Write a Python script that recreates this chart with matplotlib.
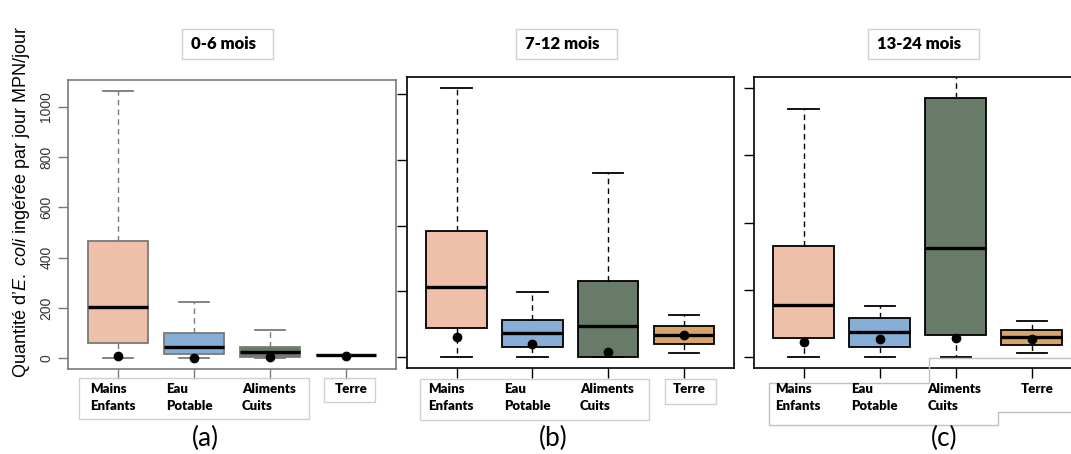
import numpy as np
import matplotlib
matplotlib.use("Agg")
import matplotlib.pyplot as plt
from matplotlib.patches import Rectangle
from matplotlib.lines import Line2D

plt.rcParams['mathtext.fontset'] = 'custom'
plt.rcParams['mathtext.rm'] = 'Liberation Sans'
plt.rcParams['mathtext.it'] = 'Liberation Sans:italic'

# data
groups = ["Mains\nEnfants", "Eau\nPotable", "Aliments\nCuits", "Terre"]
colors = ["#eec0aa", "#86aed6", "#677b68", "#d6a56a"]
titles = ["0-6 mois", "7-12 mois", "13-24 mois"]
letters = ["(a)", "(b)", "(c)"]

a_whishi = [1063, 222, 111, 15]
a_q3     = [465, 99, 46, 15]
a_med    = [202, 46, 24, 13]
a_q1     = [59, 17, 7, 12]
a_whislo = [0, 0, 0, 12]
a_mean   = [8, 0, 5, 10]

b_whishi = [819, 198, 560, 128]
b_q3     = [385, 113, 231, 94]
b_med    = [213, 74, 96, 69]
b_q1     = [89, 32, 0, 40]
b_whislo = [0, 0, 0, 13]
b_mean   = [60, 40, 16, 67]

c_whishi = [738, 152, 1000, 108]
c_q3     = [329, 115, 770, 82]
c_med    = [155, 74, 323, 59]
c_q1     = [56, 31, 65, 35]
c_whislo = [1, 0, 0, 14]
c_mean   = [44, 53, 58, 53]

W, H = 1071, 454
fig = plt.figure(figsize=(W / 100, H / 100), dpi=100)


def fx(x):
    return x / W


def fy(y):
    return 1 - y / H


def add_ax(l, t, r, b):
    return fig.add_axes([fx(l), fy(b), (r - l) / W, (b - t) / H])


panels = [
    dict(box=(68, 80, 396, 369), data=(a_whishi, a_q3, a_med, a_q1, a_whislo, a_mean),
         ylim=None, edge="#7a7a7a", labels=True),
    dict(box=(406.5, 77, 734, 368), data=(b_whishi, b_q3, b_med, b_q1, b_whislo, b_mean),
         ylim=None, edge="black", labels=False),
    dict(box=(753.5, 77, 1082, 368), data=(c_whishi, c_q3, c_med, c_q1, c_whislo, c_mean),
         ylim=(0, 800), edge="black", labels=False),
]

for p in panels:
    ax = add_ax(*p["box"])
    whishi, q3, med, q1, whislo, mean = p["data"]
    stats = []
    for i in range(len(groups)):
        stats.append(dict(med=med[i], q1=q1[i], q3=q3[i], whislo=whislo[i],
                          whishi=whishi[i], fliers=[]))
    pos = np.arange(1, len(groups) + 1)
    e = p["edge"]
    bp = ax.bxp(stats, positions=pos, widths=0.8, patch_artist=True, showfliers=False,
                boxprops=dict(edgecolor=e, linewidth=1.3),
                medianprops=dict(color="black", linewidth=2.4, solid_capstyle="butt"),
                whiskerprops=dict(color=e, linewidth=1.0, linestyle=(0, (4, 3))),
                capprops=dict(color=e, linewidth=1.3), capwidths=0.4)
    for patch, c in zip(bp["boxes"], colors):
        patch.set_facecolor(c)
    ax.plot(pos, mean, "o", color="black", markersize=6, zorder=5)

    lo = 0 if p["ylim"] is None else p["ylim"][0]
    hi = max(whishi) if p["ylim"] is None else p["ylim"][1]
    pad = 0.04 * (hi - lo)
    ax.set_ylim(lo - pad, hi + pad)
    ax.set_xlim(0.34, 4.66)
    ax.set_yticks(np.arange(0, 1001 if p["labels"] else 801, 200))
    ax.tick_params(axis="both", direction="out", length=7, color=e, width=1,
                   labelsize=10, labelcolor="#333333")
    if p["labels"]:
        ax.set_yticklabels([str(v) for v in ax.get_yticks().astype(int)],
                           rotation=90, va="center", family="Liberation Sans")
    else:
        ax.set_yticklabels([])
    ax.set_xticks(pos)
    ax.set_xticklabels([])
    for s in ax.spines.values():
        s.set_color(e)
        s.set_linewidth(1.2)

    # category labels below the axis
    l, t, r, b = p["box"]
    unit = (r - l) / 4.32
    for i, g in enumerate(groups):
        xc = l + (pos[i] - 0.34) * unit
        off = -0.15 if i == 3 else -0.37
        fig.text(fx(xc + off * unit), fy(383), g, ha="left", va="top",
                 fontsize=9.5, fontweight="heavy", family="Lato", linespacing=1.45)

# panel titles in light boxes
title_boxes = [(182, 29, 273, 59), (516, 29, 617, 59), (868, 29, 979, 59)]
for (l, t, r, b), s in zip(title_boxes, titles):
    fig.add_artist(Rectangle((fx(l), fy(b)), (r - l) / W, (b - t) / H,
                             transform=fig.transFigure, fill=False,
                             edgecolor="#d0d0d0", linewidth=1))
    fig.text(fx(l + 9), fy((t + b) / 2), s, ha="left", va="center",
             fontsize=12, fontweight="heavy", family="Lato")

# boxes round the category labels
label_boxes = [(79, 378, 309, 419), (324, 378, 375, 402),
               (420, 379, 649, 420), (665, 379, 716, 404)]
for l, t, r, b in label_boxes:
    fig.add_artist(Rectangle((fx(l), fy(b)), (r - l) / W, (b - t) / H,
                             transform=fig.transFigure, fill=False,
                             edgecolor="#d0d0d0", linewidth=1))
outline_x = [1071, 929, 929, 769, 769, 998, 998, 1071]
outline_y = [358, 358, 383, 383, 425, 425, 412, 412]
fig.add_artist(Line2D([fx(v) for v in outline_x], [fy(v) for v in outline_y],
                      transform=fig.transFigure, color="#c0c0c0", linewidth=1))

# letters under panels
for xc, s in zip([205, 553, 944], letters):
    fig.text(fx(xc), fy(438), s, ha="center", va="center", fontsize=19, family="Lato")

fig.text(fx(22), fy(202), "Quantité d’$\\it{E.}$ $\\it{coli}$ ingérée par jour MPN/jour",
         rotation=90, ha="center", va="center", fontsize=13, family="Liberation Sans")

fig.savefig("out.png", dpi=100)
